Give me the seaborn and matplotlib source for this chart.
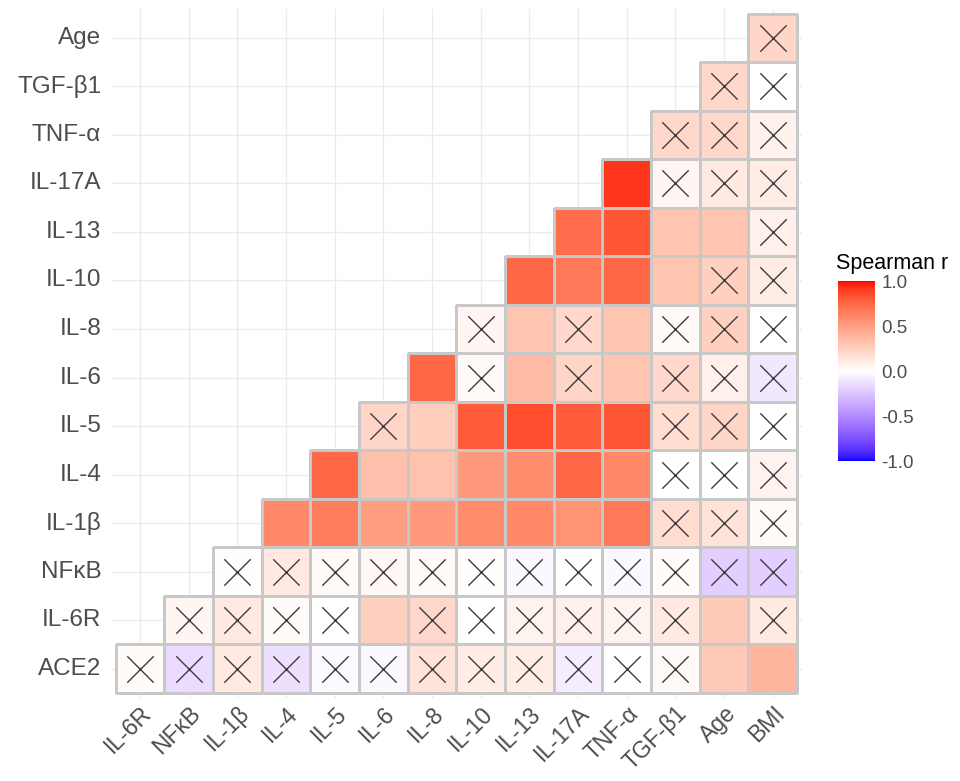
import numpy as np
import pandas as pd
import matplotlib
matplotlib.use("Agg")
import matplotlib.pyplot as plt
from matplotlib.colors import ListedColormap
from matplotlib.ticker import FormatStrFormatter
import seaborn as sns

# row labels bottom -> top, column labels left -> right
rows = ["ACE2", "IL-6R", "NF\u03baB", "IL-1\u03b2", "IL-4", "IL-5", "IL-6", "IL-8",
        "IL-10", "IL-13", "IL-17A", "TNF-\u03b1", "TGF-\u03b21", "Age"]
cols = ["IL-6R", "NF\u03baB", "IL-1\u03b2", "IL-4", "IL-5", "IL-6", "IL-8", "IL-10",
        "IL-13", "IL-17A", "TNF-\u03b1", "TGF-\u03b21", "Age", "BMI"]

# Spearman r, row i holds columns i..13
r_values = [
    [0.02, -0.15, 0.12, -0.13, -0.02, -0.03, 0.15, 0.10, 0.10, -0.08, 0.00, 0.03, 0.28, 0.38],
    [0.05, 0.12, 0.02, 0.00, 0.25, 0.20, 0.00, 0.06, 0.08, 0.06, 0.12, 0.27, 0.12],
    [0.01, 0.12, 0.03, 0.04, 0.03, 0.01, -0.03, 0.00, -0.03, 0.02, -0.20, -0.20],
    [0.60, 0.65, 0.50, 0.52, 0.58, 0.60, 0.55, 0.68, 0.18, 0.15, 0.02],
    [0.75, 0.33, 0.32, 0.52, 0.58, 0.75, 0.60, 0.00, 0.00, 0.06],
    [0.22, 0.26, 0.80, 0.85, 0.80, 0.82, 0.18, 0.22, 0.00],
    [0.75, 0.03, 0.35, 0.22, 0.30, 0.20, 0.08, -0.10],
    [0.05, 0.30, 0.20, 0.30, 0.03, 0.25, 0.00],
    [0.75, 0.68, 0.75, 0.30, 0.25, 0.10],
    [0.72, 0.82, 0.30, 0.30, 0.08],
    [0.92, 0.05, 0.12, 0.10],
    [0.20, 0.20, 0.07],
    [0.20, 0.00],
    [0.22],
]

# 1 = not significant (crossed out)
not_sig = [
    [1, 1, 1, 1, 1, 1, 1, 1, 1, 1, 1, 1, 0, 0],
    [1, 1, 1, 1, 0, 1, 1, 1, 1, 1, 1, 0, 1],
    [1, 1, 1, 1, 1, 1, 1, 1, 1, 1, 1, 1],
    [0, 0, 0, 0, 0, 0, 0, 0, 1, 1, 1],
    [0, 0, 0, 0, 0, 0, 0, 1, 1, 1],
    [1, 0, 0, 0, 0, 0, 1, 1, 1],
    [0, 1, 0, 1, 0, 1, 1, 1],
    [1, 0, 1, 0, 1, 1, 1],
    [0, 0, 0, 0, 1, 1],
    [0, 0, 0, 0, 1],
    [0, 1, 1, 1],
    [1, 1, 1],
    [1, 1],
    [1],
]


def srgb_to_lab(rgb):
    rgb = np.asarray(rgb, float)
    lin = np.where(rgb <= 0.04045, rgb / 12.92, ((rgb + 0.055) / 1.055) ** 2.4)
    M = np.array([[0.4124564, 0.3575761, 0.1804375],
                  [0.2126729, 0.7151522, 0.0721750],
                  [0.0193339, 0.1191920, 0.9503041]])
    xyz = lin @ M.T / np.array([0.95047, 1.0, 1.08883])
    d = 6 / 29
    f = np.where(xyz > d ** 3, np.cbrt(xyz), xyz / (3 * d ** 2) + 4 / 29)
    return np.stack([116 * f[..., 1] - 16, 500 * (f[..., 0] - f[..., 1]),
                     200 * (f[..., 1] - f[..., 2])], -1)


def lab_to_srgb(lab):
    d = 6 / 29
    fy = (lab[..., 0] + 16) / 116
    fx = fy + lab[..., 1] / 500
    fz = fy - lab[..., 2] / 200
    f = np.stack([fx, fy, fz], -1)
    xyz = np.where(f > d, f ** 3, 3 * d ** 2 * (f - 4 / 29)) * np.array([0.95047, 1.0, 1.08883])
    Minv = np.linalg.inv(np.array([[0.4124564, 0.3575761, 0.1804375],
                                   [0.2126729, 0.7151522, 0.0721750],
                                   [0.0193339, 0.1191920, 0.9503041]]))
    lin = np.clip(xyz @ Minv.T, 0, 1)
    rgb = np.where(lin <= 0.0031308, lin * 12.92, 1.055 * lin ** (1 / 2.4) - 0.055)
    return np.clip(rgb, 0, 1)


# blue - white - red ramp in Lab, like ggplot's gradient2
lab_w = srgb_to_lab([1, 1, 1])
lab_r = srgb_to_lab([1, 0, 0])
lab_b = srgb_to_lab([0, 0, 1])
steps = np.linspace(-1, 1, 257)
labs = np.array([lab_w + (lab_r - lab_w) * v if v >= 0 else lab_w + (lab_b - lab_w) * (-v) for v in steps])
cmap = ListedColormap(lab_to_srgb(labs))

# matrix with the top row first for the heatmap
n = len(cols)
mat = np.full((n, n), np.nan)
sig = np.zeros((n, n))
for i in range(n):
    for k, v in enumerate(r_values[i]):
        mat[i, i + k] = v
        sig[i, i + k] = not_sig[i][k]
df = pd.DataFrame(mat[::-1], index=rows[::-1], columns=cols)
sig_df = pd.DataFrame(sig[::-1], index=rows[::-1], columns=cols)

sns.set_style("white")
plt.rcParams["font.family"] = ["Liberation Sans", "DejaVu Sans"]

fig = plt.figure(figsize=(9.6, 7.81), dpi=100)
ax = fig.add_axes([0.1155, 0.1065, 0.7198, 0.8824])
cax = fig.add_axes([0.873, 0.4097, 0.038, 0.2305])

sns.heatmap(df, mask=df.isna(), cmap=cmap, vmin=-1, vmax=1, ax=ax, cbar_ax=cax,
            linewidths=0.75, linecolor="#C8C8C8", square=False,
            cbar_kws={"ticks": [-1, -0.5, 0, 0.5, 1]})

# borders only around the filled tiles
mesh = ax.collections[0]
empty = df.isna().values.ravel()
mesh.set_edgecolor([(0, 0, 0, 0) if e else "#C8C8C8" for e in empty])

# crosses for non-significant pairs
cross = sig_df.stack()
cross = cross[cross == 1].reset_index()
cross.columns = ["row", "col", "flag"]
cross["x"] = [cols.index(c) + 0.5 for c in cross["col"]]
cross["y"] = [rows[::-1].index(r) + 0.5 for r in cross["row"]]
ax.scatter(cross["x"], cross["y"], marker="x", s=19 ** 2, c="#3C3C3C", linewidths=1.0, zorder=3)

ax.set_xlim(-0.1, n + 0.1)
ax.set_ylim(n + 0.1, -0.1)
ax.set_axisbelow(True)
ax.grid(True, color="#EBEBEB", linewidth=1)
for s in ax.spines.values():
    s.set_visible(False)
ax.set_xlabel("")
ax.set_ylabel("")
ax.tick_params(length=0)
ax.set_yticklabels(rows[::-1], rotation=0, fontsize=17.5, color="#4D4D4D")
ax.tick_params(axis="y", pad=7)
ax.set_xticklabels(cols, rotation=45, ha="right", va="top", rotation_mode="anchor",
                   fontsize=16.5, color="#4D4D4D")
ax.tick_params(axis="x", pad=3)

cbar = mesh.colorbar
cbar.outline.set_visible(False)
cax.yaxis.set_major_formatter(FormatStrFormatter("%.1f"))
cax.tick_params(axis="y", direction="in", color="white", length=6, width=1,
                left=True, right=True, labelsize=13.5, labelcolor="#4D4D4D", pad=5)
fig.text(0.871, 1 - 263 / 781, "Spearman r", ha="left", va="center", fontsize=15.5, color="black")

fig.savefig("out.png", dpi=100)
